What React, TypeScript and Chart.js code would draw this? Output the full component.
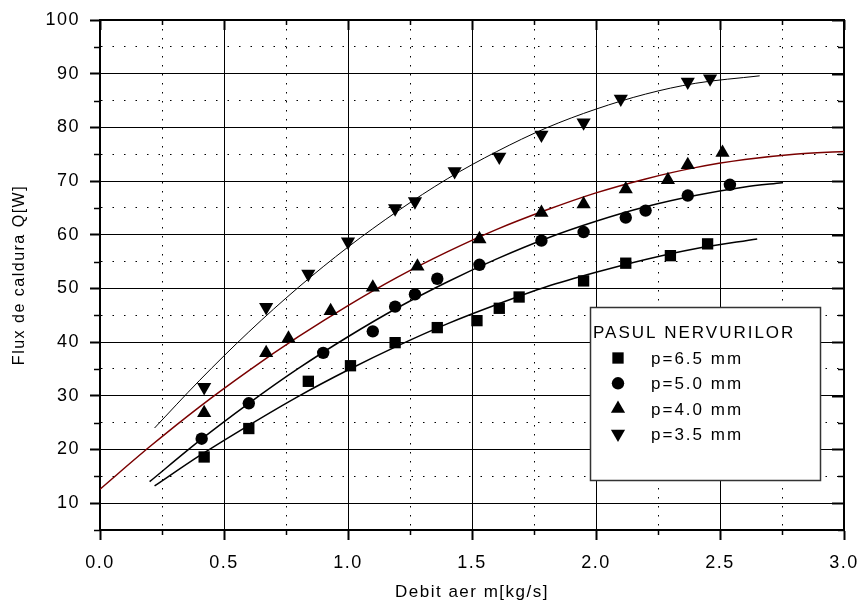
import React, { useEffect, useRef } from 'react';
import { Chart, registerables } from 'chart.js';
import { drawPoint } from 'chart.js/helpers';

Chart.register(...registerables);

const FONT = "'Liberation Sans', Arial, Helvetica, sans-serif";

// ---- measured points ----
const xSquare = [0.42, 0.60, 0.84, 1.01, 1.19, 1.36, 1.52, 1.61, 1.69, 1.95, 2.12, 2.30, 2.45];
const ySquare = [18.6, 23.9, 32.7, 35.6, 39.9, 42.7, 44.0, 46.3, 48.4, 51.4, 54.7, 56.1, 58.3];

const xCircle = [0.41, 0.60, 0.90, 1.10, 1.19, 1.27, 1.36, 1.53, 1.78, 1.95, 2.12, 2.20, 2.37, 2.54];
const yCircle = [22.0, 28.6, 38.0, 42.0, 46.6, 48.9, 51.8, 54.4, 58.9, 60.5, 63.2, 64.5, 67.3, 69.3];

const xTriUp = [0.42, 0.67, 0.76, 0.93, 1.10, 1.28, 1.53, 1.78, 1.95, 2.12, 2.29, 2.37, 2.51];
const yTriUp = [26.8, 38.0, 40.7, 45.8, 50.2, 54.1, 59.2, 64.1, 65.7, 68.5, 70.2, 73.0, 75.3];

const xTriDown = [0.42, 0.67, 0.84, 1.00, 1.19, 1.27, 1.43, 1.61, 1.78, 1.95, 2.10, 2.37, 2.46];
const yTriDown = [31.6, 46.5, 52.7, 58.7, 64.9, 66.2, 71.8, 74.5, 78.6, 80.9, 85.3, 88.5, 89.1];

// ---- fitted curves ----
const fitX65 = [0.22, 0.4, 0.6, 0.8, 1.0, 1.2, 1.4, 1.6, 1.8, 2.0, 2.2, 2.4, 2.65];
const fitY65 = [13.2, 18.8, 24.5, 29.9, 34.8, 39.3, 43.4, 47.0, 50.3, 53.0, 55.4, 57.4, 59.2];

const fitX50 = [0.2, 0.4, 0.6, 0.8, 1.0, 1.2, 1.4, 1.6, 1.8, 2.0, 2.2, 2.4, 2.6, 2.75];
const fitY50 = [14.0, 21.6, 28.6, 35.1, 41.0, 46.4, 51.2, 55.5, 59.3, 62.5, 65.2, 67.3, 68.9, 69.7];

const fitX40 = [0.0, 0.2, 0.4, 0.6, 0.8, 1.0, 1.2, 1.4, 1.6, 1.8, 2.0, 2.2, 2.4, 2.6, 2.8, 3.0];
const fitY40 = [12.6, 20.5, 27.9, 34.7, 41.0, 46.8, 52.1, 56.8, 61.0, 64.6, 67.8, 70.4, 72.5, 74.0, 75.0, 75.5];

const fitX35 = [0.22, 0.4, 0.6, 0.8, 1.0, 1.2, 1.4, 1.6, 1.8, 2.0, 2.2, 2.4, 2.66];
const fitY35 = [24.0, 32.8, 41.9, 50.2, 57.7, 64.4, 70.4, 75.5, 79.9, 83.4, 86.2, 88.2, 89.6];

const seriesLabels = ['p=6.5 mm', 'p=5.0 mm', 'p=4.0 mm', 'p=3.5 mm'];
const legendTitle = 'PASUL NERVURILOR';
const xTitle = 'Debit aer m[kg/s]';
const yTitle = 'Flux de caldura Q[W]';

const xMin = 0, xMax = 3, xStep = 0.25, xLabelStep = 0.5;
const yMin = 5, yMax = 100, yStep = 5, yLabelStep = 10;

const isMajorX = (v: number) => Math.abs(v / xLabelStep - Math.round(v / xLabelStep)) < 1e-6;
const isMajorY = (v: number) => Math.abs(v / yLabelStep - Math.round(v / yLabelStep)) < 1e-6;

const pts = (xs: number[], ys: number[]) => xs.map((x, i) => ({ x, y: ys[i] }));

const markerStyles = [
  { pointStyle: 'rect', radius: 8, rotation: 0 },
  { pointStyle: 'circle', radius: 6.2, rotation: 0 },
  { pointStyle: 'triangle', radius: 8.2, rotation: 0 },
  { pointStyle: 'triangle', radius: 8.2, rotation: 180 },
];

const spacingPlugin = {
  id: 'spacing',
  beforeLayout(chart: any) { chart.ctx.letterSpacing = '1.5px'; },
  beforeDraw(chart: any) { chart.ctx.letterSpacing = '1.5px'; },
};

const framePlugin = {
  id: 'frame',
  beforeDatasetsDraw(chart: any) {
    const { ctx, chartArea: a, scales } = chart;
    const xs = scales.x, ys = scales.y;
    ctx.save();
    ctx.setLineDash([]);
    ctx.strokeStyle = '#000';
    for (const t of xs.ticks) {
      const px = Math.round(xs.getPixelForValue(t.value)) + 0.5;
      const major = isMajorX(t.value);
      ctx.lineWidth = major ? 2 : 1.5;
      ctx.beginPath();
      if (!major) { ctx.moveTo(px, a.bottom); ctx.lineTo(px, a.bottom + 5); }
      ctx.moveTo(px, a.top); ctx.lineTo(px, a.top + (major ? 10 : 5));
      ctx.stroke();
    }
    for (const t of ys.ticks) {
      const py = Math.round(ys.getPixelForValue(t.value)) + 0.5;
      const major = isMajorY(t.value);
      ctx.lineWidth = major ? 2 : 1.5;
      ctx.beginPath();
      if (!major) { ctx.moveTo(a.left, py); ctx.lineTo(a.left - 6, py); }
      ctx.moveTo(a.right, py); ctx.lineTo(a.right - (major ? 12 : 6), py);
      ctx.stroke();
    }
    ctx.lineWidth = 2;
    ctx.beginPath();
    ctx.moveTo(a.left, a.top);
    ctx.lineTo(a.right, a.top);
    ctx.lineTo(a.right, a.bottom + 1);
    ctx.stroke();
    ctx.restore();
  },
};

const legendPlugin = {
  id: 'boxLegend',
  afterDatasetsDraw(chart: any) {
    const ctx = chart.ctx;
    const left = 590, top = 307, width = 230, height = 173;
    ctx.save();
    ctx.setLineDash([]);
    ctx.fillStyle = '#fff';
    ctx.fillRect(left, top, width, height);
    ctx.strokeStyle = '#333';
    ctx.lineWidth = 1.5;
    ctx.strokeRect(left + 0.5, top + 0.5, width, height);
    ctx.font = `17px ${FONT}`;
    ctx.letterSpacing = '2px';
    ctx.fillStyle = '#000';
    ctx.textAlign = 'left';
    ctx.textBaseline = 'alphabetic';
    ctx.fillText(legendTitle, left + 3, top + 31);
    markerStyles.forEach((m, i) => {
      const cy = top + 51 + i * 25.3;
      ctx.fillStyle = '#000';
      ctx.strokeStyle = '#000';
      drawPoint(ctx, { pointStyle: m.pointStyle, radius: m.radius, rotation: m.rotation, borderWidth: 0 } as any, left + 28, cy);
      ctx.fillText(seriesLabels[i], left + 61, cy + 6);
    });
    ctx.restore();
  },
};

export default function App() {
  const ref = useRef<HTMLCanvasElement | null>(null);

  useEffect(() => {
    if (!ref.current) return;
    const markerSets = [pts(xSquare, ySquare), pts(xCircle, yCircle), pts(xTriUp, yTriUp), pts(xTriDown, yTriDown)];
    const fitSets = [pts(fitX65, fitY65), pts(fitX50, fitY50), pts(fitX40, fitY40), pts(fitX35, fitY35)];
    const fitColors = ['#000', '#000', '#7a0000', '#000'];
    const fitWidths = [1.5, 1.5, 1.5, 1];

    const datasets: any[] = [];
    markerSets.forEach((d, i) => {
      datasets.push({
        label: seriesLabels[i],
        data: d,
        showLine: false,
        pointStyle: markerStyles[i].pointStyle,
        pointRadius: markerStyles[i].radius,
        pointRotation: markerStyles[i].rotation,
        pointBackgroundColor: '#000',
        pointBorderColor: '#000',
        pointBorderWidth: 0,
        order: 0,
      });
    });
    fitSets.forEach((d, i) => {
      datasets.push({
        label: seriesLabels[i] + ' fit',
        data: d,
        showLine: true,
        borderColor: fitColors[i],
        borderWidth: fitWidths[i],
        pointRadius: 0,
        cubicInterpolationMode: 'monotone',
        fill: false,
        order: 1,
      });
    });

    const chart = new Chart(ref.current, {
      type: 'scatter',
      data: { datasets },
      plugins: [spacingPlugin, framePlugin, legendPlugin],
      options: {
        animation: false,
        responsive: false,
        devicePixelRatio: 1,
        layout: { padding: { top: 20, right: 16, left: 0, bottom: 0 } },
        plugins: { legend: { display: false }, tooltip: { enabled: false } },
        scales: {
          x: {
            type: 'linear',
            min: xMin,
            max: xMax,
            afterFit: (s: any) => { s.height = 76; s.paddingLeft = 0; s.paddingRight = 0; },
            ticks: {
              stepSize: xStep,
              autoSkip: false,
              maxRotation: 0,
              color: '#000',
              padding: 12,
              font: { family: FONT, size: 18 },
              callback: (v: any) => (isMajorX(Number(v)) ? Number(v).toFixed(1) : ''),
            },
            grid: {
              color: '#000',
              lineWidth: 1,
              tickLength: 10,
              tickWidth: 2,
              tickColor: (c: any) => (c.tick && isMajorX(c.tick.value) ? '#000' : 'rgba(0,0,0,0)'),
            },
            border: {
              display: true,
              color: '#000',
              width: 2,
              dash: (c: any) => (c.tick && !isMajorX(c.tick.value) ? [1.5, 7.5] : []),
            },
            title: {
              display: true,
              text: xTitle,
              color: '#000',
              font: { family: FONT, size: 17 },
              padding: { top: 0, bottom: 3 },
            },
          },
          y: {
            type: 'linear',
            min: yMin,
            max: yMax,
            afterFit: (s: any) => { s.width = 100; s.paddingTop = 0; s.paddingBottom = 0; },
            ticks: {
              stepSize: yStep,
              autoSkip: false,
              color: '#000',
              padding: 10,
              font: { family: FONT, size: 18 },
              callback: (v: any) => (isMajorY(Number(v)) ? String(Math.round(Number(v))) : ''),
            },
            grid: {
              color: '#000',
              lineWidth: 1,
              tickLength: 10,
              tickWidth: 2,
              tickColor: (c: any) => (c.tick && isMajorY(c.tick.value) ? '#000' : 'rgba(0,0,0,0)'),
            },
            border: {
              display: true,
              color: '#000',
              width: 2,
              dash: (c: any) => (c.tick && !isMajorY(c.tick.value) ? [1.5, 10] : []),
            },
            title: {
              display: true,
              text: yTitle,
              color: '#000',
              font: { family: FONT, size: 16 },
              padding: { top: 10, bottom: 0 },
            },
          },
        },
      } as any,
    });
    return () => chart.destroy();
  }, []);

  return (
    <div style={{ position: 'fixed', left: 0, top: 0, width: 860, height: 606, background: '#fff' }}>
      <canvas ref={ref} width={860} height={606} style={{ display: 'block' }} />
    </div>
  );
}
